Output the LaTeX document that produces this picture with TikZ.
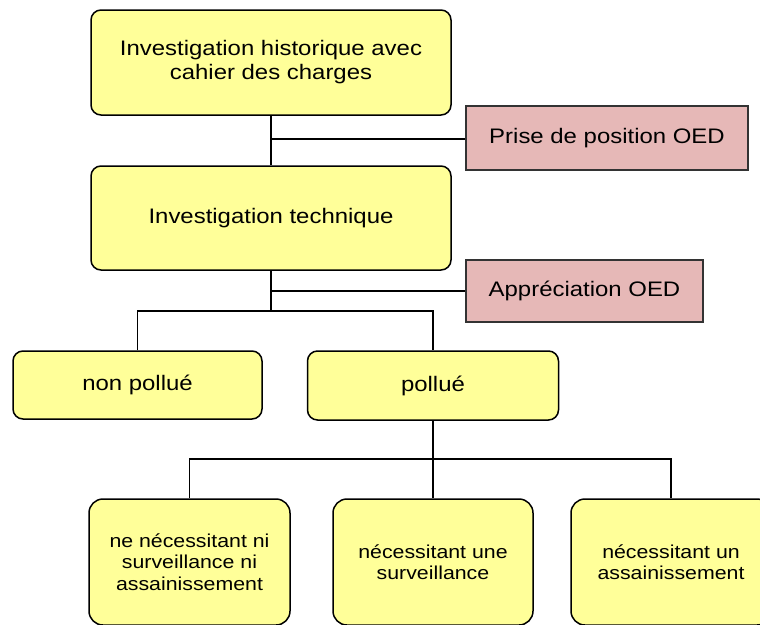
\documentclass[tikz,border=0pt]{standalone}
\usepackage{fontspec}
\setmainfont[FakeStretch=1.14]{Liberation Sans}
\definecolor{boxyellow}{HTML}{FFFF99}
\definecolor{boxpink}{HTML}{E6B8B7}
\tikzset{
  ybox/.style={draw=black, line width=1.5pt, fill=boxyellow, rounded corners=10pt,
    align=center, inner sep=0pt, font=\fontsize{21}{24}\selectfont},
  smallbox/.style={ybox, rounded corners=14pt, font=\fontsize{18.7}{21.5}\selectfont},
  pbox/.style={draw=black!80, line width=1.2pt, fill=boxpink, align=center,
    inner sep=0pt, font=\fontsize{21}{24}\selectfont},
  conn/.style={draw=black, line width=1.4pt}
}
\begin{document}
\begin{tikzpicture}[x=1pt,y=-1pt]
\useasboundingbox (0,0) rectangle (760,624);
\clip (0,0) rectangle (760,624);
\node[ybox, minimum width=360pt, minimum height=105pt] (h1) at (271,62.5) {Investigation historique avec\\cahier des charges};
\node[ybox, minimum width=360pt, minimum height=104pt] (h2) at (271,218) {Investigation technique};
\node[pbox, minimum width=282pt, minimum height=64pt] (p1) at (607,138) {Prise de position OED};
\node[pbox, minimum width=237pt, minimum height=62pt] (p2) at (584.5,291) {Appréciation OED};
\node[ybox, minimum width=249pt, minimum height=68pt] (np) at (137.5,385) {non pollué};
\node[ybox, minimum width=251pt, minimum height=69pt] (po) at (433,385.5) {pollué};
\node[smallbox, minimum width=201pt, minimum height=126pt] (bA) at (189.5,562) {ne nécessitant ni\\surveillance ni\\assainissement};
\node[smallbox, minimum width=200pt, minimum height=126pt] (bB) at (433,562) {nécessitant une\\surveillance};
\node[smallbox, minimum width=200pt, minimum height=126pt] (bC) at (671,562) {nécessitant un\\assainissement};
\coordinate (j1) at (271,139);
\coordinate (j2) at (271,291);
\coordinate (j3) at (271,311);
\coordinate (j4) at (433,459);
\draw[conn] (h1.south) -- (h2.north);
\draw[conn] (j1) -- (j1 -| p1.west);
\draw[conn] (h2.south) -- (j3);
\draw[conn] (j2) -- (j2 -| p2.west);
\draw[conn] (np.north) |- (j3) -| (po.north);
\draw[conn] (po.south) -- (j4);
\draw[conn] (bA.north) |- (j4) -| (bC.north);
\draw[conn] (j4) -- (bB.north);
\end{tikzpicture}
\end{document}
